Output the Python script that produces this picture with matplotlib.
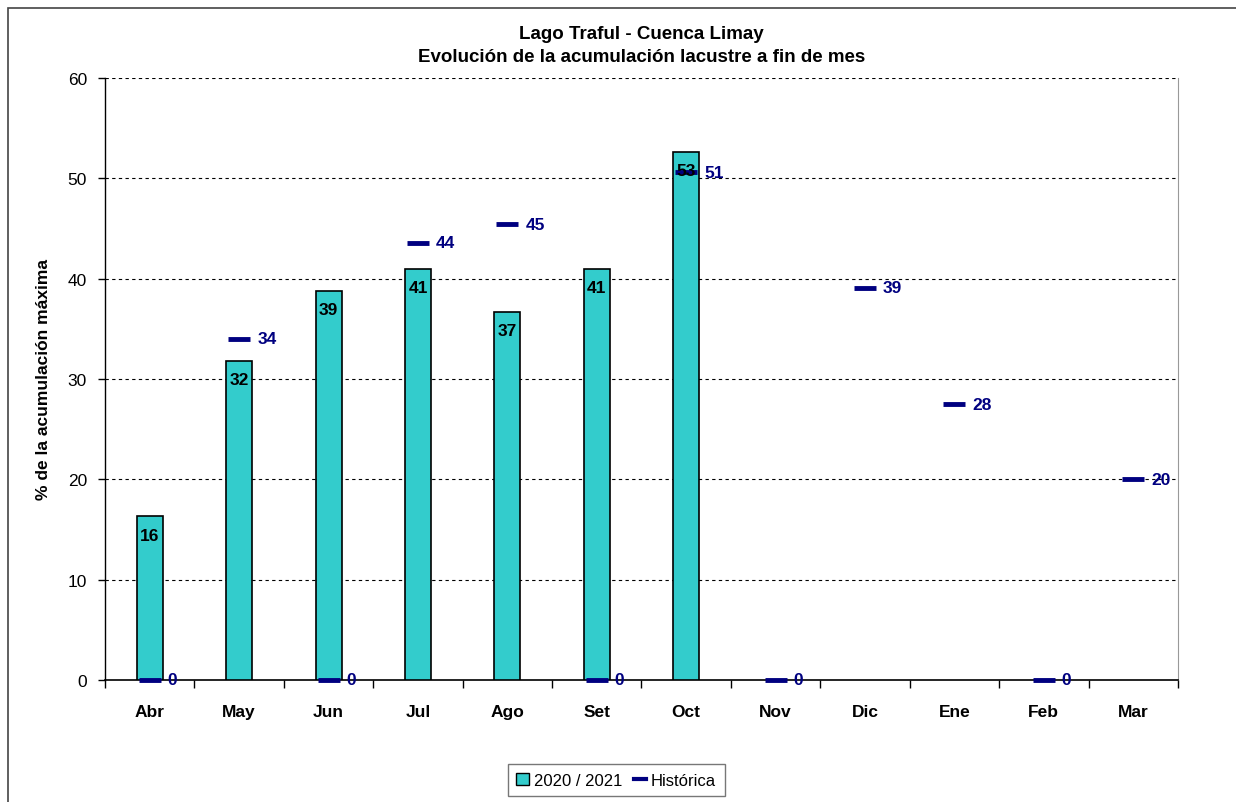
import matplotlib.pyplot as plt
from matplotlib.patches import Rectangle
from matplotlib.lines import Line2D

plt.rcParams['font.family'] = ['Liberation Sans', 'DejaVu Sans']

# Monthly data
meses = ['Abr', 'May', 'Jun', 'Jul', 'Ago', 'Set', 'Oct', 'Nov', 'Dic', 'Ene', 'Feb', 'Mar']
actual = [16.3, 31.8, 38.8, 41.0, 36.7, 41.0, 52.6]
historica = [0, 34.0, 0, 43.6, 45.4, 0, 50.6, 0, 39.1, 27.5, 0, 20.0]

teal = '#33CCCC'
navy = '#000080'

fig = plt.figure(figsize=(12.36, 8.03), dpi=100)
ax = fig.add_axes([0.085, 0.152, 0.868, 0.7496])

x = list(range(len(meses)))

# bars for the current season
ax.bar(x[:len(actual)], actual, width=0.29, color=teal, edgecolor='black', linewidth=1.2, zorder=3)
for xi, v in zip(x, actual):
    ax.annotate(f'{v:.0f}', (xi, v), xytext=(0, -8), textcoords='offset points',
                ha='center', va='top', fontsize=12.5, fontweight='bold', zorder=5)

# historical marks
ax.plot(x, historica, linestyle='none', marker='_', markersize=16, markeredgewidth=3.5,
        color=navy, zorder=4, clip_on=False)
for xi, v in zip(x, historica):
    ax.annotate(f'{v:.0f}', (xi, v), xytext=(13, 0), textcoords='offset points',
                ha='left', va='center', fontsize=12.5, fontweight='bold', color=navy, zorder=5)

ax.set_xlim(-0.5, 11.5)
ax.set_ylim(0, 60)
ax.set_yticks(range(0, 61, 10))
ax.set_xticks(x)
ax.set_xticklabels(meses, fontsize=12.5, fontweight='bold')
ax.tick_params(axis='x', length=0, pad=17)
ax.set_xticks([i + 0.5 for i in range(-1, 12)], minor=True)
ax.tick_params(axis='x', which='minor', length=6, direction='out', width=1)
ax.tick_params(axis='y', labelsize=12.5, length=5, width=1, pad=8)

for y in range(10, 61, 10):
    ax.axhline(y, color='black', linestyle=(0, (3, 3)), linewidth=0.8, zorder=1)

ax.spines['top'].set_visible(False)
ax.spines['right'].set_color('#999999')
ax.spines['left'].set_linewidth(1)
ax.spines['bottom'].set_linewidth(1.2)

ax.set_ylabel('% de la acumulación máxima', fontsize=12.5, fontweight='bold', labelpad=12)
ax.set_title('Lago Traful - Cuenca Limay\nEvolución de la acumulación lacustre a fin de mes',
             fontsize=13.5, fontweight='bold', pad=12, linespacing=1.5)

handles = [Rectangle((0, 0), 1, 1, facecolor=teal, edgecolor='black'),
           Line2D([], [], color=navy, linewidth=3)]
fig.legend(handles, ['2020 / 2021', 'Histórica'], loc='lower center',
           bbox_to_anchor=(0.4985, -0.003), ncol=2, fontsize=12, frameon=True,
           fancybox=False, edgecolor='#555555', handlelength=0.75, handleheight=0.75,
           handletextpad=0.3, columnspacing=0.7, borderpad=0.5)

# outer frame
fig.patches.append(Rectangle((8 / 1236, -0.05), 1.2, 1 - 9 / 803 + 0.05,
                             transform=fig.transFigure, fill=False,
                             edgecolor='#444444', linewidth=1.2))

fig.savefig('out.png', dpi=100)
